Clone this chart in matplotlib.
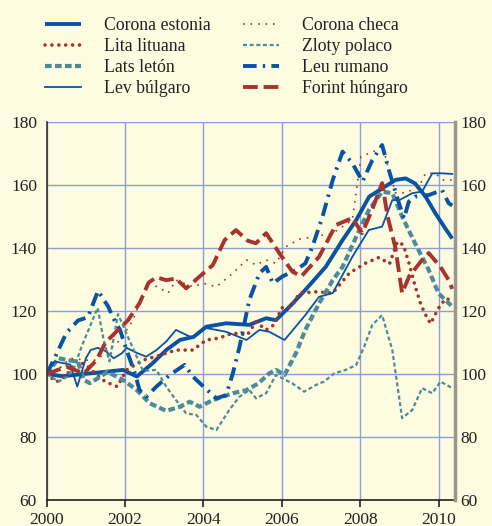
import numpy as np
import matplotlib.pyplot as plt

plt.rcParams['font.family'] = ['Liberation Serif', 'DejaVu Serif']

# datos (indice 2000 = 100)
est_yr = [2000.0, 2000.4, 2001.1, 2001.5, 2001.95, 2002.3, 2002.7, 2003.05, 2003.4, 2003.75, 2004.07, 2004.58,
          2005.17, 2005.6, 2005.85, 2006.2, 2006.6, 2007.12, 2007.55, 2007.9, 2008.23, 2008.56, 2008.9, 2009.16,
          2009.4, 2009.67, 2009.92, 2010.2, 2010.35]
est_val = [100, 99.3, 100.2, 100.7, 101.3, 99.2, 103.4, 107.6, 110.8, 111.8, 115, 116.1,
           115.6, 117.7, 117.1, 121.4, 126.7, 134, 142.5, 148.9, 156.3, 158.9, 161.6, 162.1,
           160.5, 156.3, 151, 145.7, 143]

lit_yr = [2000.0, 2000.25, 2000.5, 2000.75, 2001.0, 2001.25, 2001.5, 2001.8, 2002.04, 2002.46, 2002.9, 2003.3,
          2003.73, 2004.07, 2004.4, 2004.75, 2005.12, 2005.34, 2005.6, 2005.8, 2006.0, 2006.25, 2006.45, 2006.87,
          2007.3, 2007.72, 2008.14, 2008.48, 2008.75, 2008.95, 2009.1, 2009.25, 2009.4, 2009.55, 2009.7, 2009.8,
          2009.92, 2010.05, 2010.2, 2010.35]
lit_val = [100, 97.5, 99.5, 104, 103, 100, 97.5, 96, 101.3, 104.4, 106, 107.6,
           107.6, 110.8, 111.4, 113, 112.4, 116.6, 114, 115.6, 121, 121.4, 125.7, 126.1,
           125.7, 132, 135.2, 137, 135, 142, 141, 135, 128, 122, 118, 116,
           119, 122, 124, 123]

lat_yr = [2000.0, 2000.3, 2000.55, 2000.8, 2000.95, 2001.1, 2001.3, 2001.55, 2001.7, 2001.95, 2002.3, 2002.63,
          2003.05, 2003.4, 2003.65, 2003.9, 2004.24, 2004.75, 2005.1, 2005.4, 2005.68, 2005.85, 2006.07, 2006.36,
          2006.6, 2006.95, 2007.3, 2007.55, 2007.9, 2008.22, 2008.56, 2008.82, 2009.07, 2009.4, 2009.75, 2010.0,
          2010.35]
lat_val = [100, 105, 104.4, 103.9, 98.1, 97.1, 98.6, 100.7, 99.7, 98.1, 94.9, 90.7,
           88.3, 89.6, 91.2, 89.6, 91.7, 93.9, 94.9, 97, 100.2, 101.3, 99.7, 106.6,
           114, 122.4, 129.8, 134, 143.6, 152, 157.9, 157.4, 150, 141.5, 133, 125.6,
           121.4]

lev_yr = [2000.0, 2000.2, 2000.6, 2000.78, 2001.0, 2001.12, 2001.3, 2001.5, 2001.71, 2001.92, 2002.04, 2002.3,
          2002.54, 2002.8, 2003.05, 2003.3, 2003.73, 2004.07, 2004.58, 2005.1, 2005.43, 2005.68, 2006.07, 2006.6,
          2006.95, 2007.3, 2007.8, 2008.22, 2008.56, 2008.82, 2009.0, 2009.33, 2009.58, 2009.84, 2010.1, 2010.35]
lev_val = [100, 104, 103, 96, 105, 107.6, 108.3, 107.3, 105, 106.6, 108.3, 106.7,
           105.5, 107.6, 110.3, 114, 111.4, 114.6, 113.4, 110.8, 114, 113.4, 110.8, 118.7,
           124.5, 125.7, 137.2, 145.7, 146.8, 155.2, 155.2, 157.4, 157.9, 163.7, 163.7, 163.5]

che_yr = [2000.0, 2000.3, 2000.6, 2001.0, 2001.25, 2001.5, 2001.87, 2002.2, 2002.46, 2002.63, 2003.1, 2003.3,
          2003.73, 2004.0, 2004.33, 2004.75, 2005.1, 2005.34, 2005.6, 2005.85, 2006.1, 2006.45, 2006.78, 2007.3,
          2007.8, 2008.02, 2008.4, 2008.56, 2008.9, 2009.16, 2009.5, 2009.67, 2009.92, 2010.1, 2010.35]
che_val = [100, 101.5, 105, 104.4, 104.4, 106.6, 110.8, 117, 125.7, 129, 125.7, 129.8,
           127.7, 128.8, 127.7, 132, 136.2, 134.6, 136.2, 135.1, 140.4, 142.8, 143.5, 144.7,
           148.9, 169, 171, 172.7, 157.5, 157.5, 159.5, 163.7, 163.7, 161.6, 161.6]

zlo_yr = [2000.0, 2000.3, 2000.5, 2000.7, 2000.9, 2001.3, 2001.45, 2001.6, 2001.82, 2002.1, 2002.46, 2002.8,
          2003.05, 2003.3, 2003.56, 2003.82, 2004.07, 2004.33, 2004.66, 2004.92, 2005.17, 2005.34, 2005.6, 2005.85,
          2006.02, 2006.27, 2006.57, 2006.87, 2007.08, 2007.34, 2007.63, 2007.9, 2008.1, 2008.31, 2008.56, 2008.82,
          2009.07, 2009.33, 2009.58, 2009.84, 2010.05, 2010.35]
zlo_val = [100, 97.6, 99, 102, 109, 121, 111, 104, 119, 111, 101, 101.3,
           96, 91.7, 87.5, 87, 83.3, 82.2, 88.6, 92.8, 94.9, 92.3, 93.9, 99.7,
           98.6, 97, 94.4, 96.5, 97.6, 100.2, 101.3, 102.9, 108.6, 115.6, 118.7, 107.6,
           86, 88.6, 95.5, 93.9, 97.6, 95.5]

leu_yr = [2000.0, 2000.2, 2000.5, 2000.8, 2001.05, 2001.31, 2001.57, 2001.7, 2001.87, 2002.04, 2002.25, 2002.37,
          2002.54, 2002.8, 2003.14, 2003.52, 2003.73, 2004.0, 2004.33, 2004.58, 2004.75, 2004.92, 2005.17, 2005.43,
          2005.6, 2005.77, 2006.02, 2006.36, 2006.6, 2006.78, 2007.04, 2007.3, 2007.55, 2007.8, 2008.06, 2008.31,
          2008.56, 2008.73, 2008.99, 2009.12, 2009.24, 2009.4, 2009.75, 2010.09, 2010.26, 2010.35]
leu_val = [100, 105, 113, 117, 118, 126.4, 121.4, 117.7, 114, 107.6, 100.2, 94.9,
           92.8, 96, 99.7, 102.9, 99.2, 96, 92.3, 93.3, 100.2, 108.6, 123.5, 132,
           134, 128.8, 131, 133, 135.1, 140.4, 150, 161.6, 170.6, 166.9, 161.1, 167.9,
           172.7, 164.8, 154.2, 149.4, 154.7, 156.3, 156.8, 158.4, 154.2, 153.5]

for_yr = [2000.0, 2000.5, 2000.95, 2001.27, 2001.5, 2001.87, 2002.07, 2002.37, 2002.6, 2002.8, 2003.05, 2003.3,
          2003.56, 2004.0, 2004.24, 2004.54, 2004.83, 2005.13, 2005.34, 2005.6, 2005.94, 2006.27, 2006.5, 2006.95,
          2007.38, 2007.8, 2008.05, 2008.3, 2008.56, 2008.7, 2008.9, 2009.07, 2009.25, 2009.58, 2009.75, 2010.05,
          2010.26, 2010.35]
for_val = [100, 102.3, 100.2, 104.4, 110, 114.6, 117, 122.5, 129, 130.7, 129.8, 130.3,
           127.2, 132, 134.6, 142.5, 145.7, 142.3, 141.5, 144.7, 138.3, 132.5, 131, 137.2,
           147.3, 149.5, 144.7, 152, 160.6, 150, 140, 125.7, 131, 136.2, 138.4, 134,
           129.8, 127]

yticks = np.arange(60, 181, 20)
xticks = np.arange(2000, 2011, 2)

blue = '#0853a3'
red = '#a8332e'
teal = '#4b8b9b'
fondo = '#fdfbe0'

fig = plt.figure(figsize=(4.92, 5.26), dpi=100, facecolor=fondo)
ax = fig.add_axes([46.7 / 492, 1 - 500 / 526, (455 - 46.7) / 492, (500 - 122) / 526])
ax.set_facecolor(fondo)

ax.plot(est_yr, est_val, color=blue, lw=2.8, solid_capstyle='butt', label='Corona estonia')
ax.plot(lit_yr, lit_val, color=red, lw=2.6, linestyle=(0, (0.01, 1.9)), dash_capstyle='round',
        label='Lita lituana')
ax.plot(lat_yr, lat_val, color=teal, lw=3.0, linestyle=(0, (1.6, 0.8)), label='Lats letón')
ax.plot(lev_yr, lev_val, color=blue, lw=1.3, label='Lev búlgaro')
ax.plot(che_yr, che_val, color=red, lw=1.2, linestyle=(0, (1, 3.5)), label='Corona checa')
ax.plot(zlo_yr, zlo_val, color=teal, lw=1.6, linestyle=(0, (1.8, 1.2)), label='Zloty polaco')
ax.plot(leu_yr, leu_val, color=blue, lw=2.8, linestyle=(0, (3.5, 1.6, 0.6, 1.6)), label='Leu rumano')
ax.plot(for_yr, for_val, color=red, lw=2.8, linestyle=(0, (3.8, 1.5)), label='Forint húngaro')

ax.set_xlim(2000, 2010.42)
ax.set_ylim(60, 180)
ax.set_xticks(xticks)
ax.set_yticks(yticks)
ax.grid(True, color='#8d9dd6', lw=1.0)
ax.set_axisbelow(True)

ax.spines['top'].set_visible(False)
ax.spines['right'].set_visible(False)
ax.spines['left'].set_color('#333333')
ax.spines['left'].set_linewidth(1.2)
ax.spines['bottom'].set_color('#222222')
ax.spines['bottom'].set_linewidth(1.2)

ax.tick_params(axis='y', left=False, length=0, labelsize=12.5, pad=7, colors='#222222')
ax.tick_params(axis='x', direction='out', length=5, width=1.2, color='#222222',
               labelsize=12.5, pad=4, labelcolor='#222222')

# eje derecho, mismas etiquetas
ax2 = ax.twinx()
ax2.set_ylim(60, 180)
ax2.set_yticks(yticks)
ax2.tick_params(axis='y', right=False, length=0, labelsize=12.5, pad=4, colors='#222222')
for s in ['top', 'left', 'bottom']:
    ax2.spines[s].set_visible(False)
ax2.spines['right'].set_color('#9c978a')
ax2.spines['right'].set_linewidth(2.5)

h, l = ax.get_legend_handles_labels()
fig.legend(h, l, ncol=2, loc='upper left', bbox_to_anchor=(45 / 492, 1 - 17 / 526),
           frameon=False, fontsize=12.8, handlelength=2.0, handletextpad=1.3,
           columnspacing=1.85, labelspacing=0.22, borderpad=0, borderaxespad=0,
           labelcolor='#222222')

fig.savefig('out.png', dpi=100, facecolor=fondo)
